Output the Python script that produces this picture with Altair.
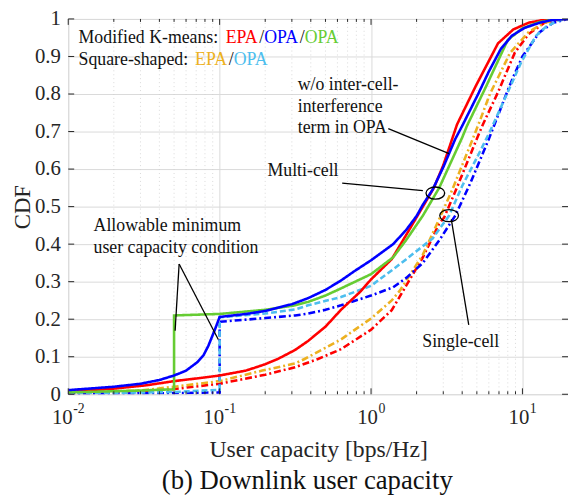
import altair as alt
import pandas as pd

# ---------------- data ----------------
red_multi_x = [0.01, 0.02, 0.033, 0.05, 0.07, 0.1, 0.149, 0.2, 0.245, 0.315, 0.384, 0.5, 0.633, 0.853, 1.0, 1.37, 1.71, 2.2, 2.6, 3.0, 3.7, 4.9, 6.9, 8.7, 11, 14, 18, 20]
red_multi_y = [0.006, 0.015, 0.024, 0.035, 0.042, 0.05, 0.063, 0.08, 0.095, 0.118, 0.142, 0.18, 0.225, 0.274, 0.306, 0.36, 0.425, 0.5, 0.55, 0.61, 0.719, 0.82, 0.935, 0.972, 0.99, 0.998, 1.0, 1.0]

blue_multi_x = [0.01, 0.02, 0.03, 0.04, 0.05, 0.06, 0.071, 0.078, 0.084, 0.093, 0.1, 0.15, 0.2, 0.3, 0.384, 0.5, 0.633, 0.77, 1.0, 1.4, 1.7, 2.0, 2.2, 2.55, 3.0, 3.6, 4.0, 5.1, 6.0, 7.2, 8.5, 10.3, 13, 16, 20]
blue_multi_y = [0.011, 0.02, 0.028, 0.038, 0.05, 0.063, 0.085, 0.103, 0.128, 0.172, 0.206, 0.214, 0.222, 0.24, 0.256, 0.278, 0.303, 0.327, 0.357, 0.4, 0.437, 0.475, 0.505, 0.545, 0.605, 0.68, 0.715, 0.8, 0.86, 0.92, 0.955, 0.976, 0.99, 0.998, 1.0]

green_multi_x = [0.01, 0.02, 0.03, 0.04, 0.05, 0.05, 0.1, 0.2, 0.315, 0.384, 0.5, 0.633, 1.0, 1.4, 1.7, 2.2, 2.82, 4.0, 4.3, 5.66, 8.0, 10, 13, 17, 20]
green_multi_y = [0.005, 0.008, 0.01, 0.012, 0.013, 0.21, 0.214, 0.225, 0.237, 0.246, 0.263, 0.282, 0.32, 0.365, 0.41, 0.476, 0.55, 0.684, 0.715, 0.814, 0.944, 0.975, 0.992, 1.0, 1.0]

red_single_x = [0.01, 0.03, 0.05, 0.1, 0.2, 0.315, 0.446, 0.633, 1.0, 1.37, 1.71, 2.2, 2.82, 3.04, 3.6, 4.93, 5.5, 6.9, 8.9, 11, 14, 18, 20]
red_single_y = [0.002, 0.008, 0.014, 0.028, 0.052, 0.072, 0.094, 0.12, 0.172, 0.224, 0.29, 0.365, 0.455, 0.471, 0.54, 0.675, 0.72, 0.805, 0.91, 0.96, 0.99, 1.0, 1.0]

orange_single_x = [0.01, 0.03, 0.05, 0.1, 0.191, 0.315, 0.364, 0.633, 1.0, 1.37, 1.55, 2.2, 2.82, 3.44, 4.64, 5.25, 6.1, 8.3, 11, 14, 18, 20]
orange_single_y = [0.003, 0.01, 0.02, 0.035, 0.063, 0.082, 0.094, 0.146, 0.202, 0.25, 0.276, 0.372, 0.467, 0.545, 0.675, 0.73, 0.8, 0.91, 0.965, 0.99, 1.0, 1.0]

bluedash_single_x = [0.01, 0.05, 0.1, 0.1, 0.2, 0.315, 0.384, 0.5, 0.633, 1.0, 1.4, 1.71, 2.2, 2.82, 3.6, 4.5, 6.0, 8.0, 8.8, 10, 13, 16, 20]
bluedash_single_y = [0.001, 0.003, 0.005, 0.193, 0.203, 0.21, 0.215, 0.225, 0.237, 0.263, 0.285, 0.31, 0.35, 0.41, 0.476, 0.56, 0.68, 0.81, 0.85, 0.9, 0.965, 0.99, 1.0]

lightblue_single_x = [0.01, 0.05, 0.1, 0.1, 0.2, 0.315, 0.384, 0.633, 1.0, 1.4, 1.71, 2.55, 3.28, 4.0, 5.0, 6.1, 8.0, 9.8, 12.3, 14.3, 17, 20]
lightblue_single_y = [0.002, 0.006, 0.012, 0.205, 0.215, 0.226, 0.237, 0.259, 0.289, 0.333, 0.36, 0.415, 0.476, 0.555, 0.63, 0.7, 0.805, 0.884, 0.955, 0.979, 0.995, 1.0]

# (name, x, y, color, dash)  -- drawn in this order
series = [
    ("K-means EPA single", red_single_x, red_single_y, "#ff0000", [7, 3, 2, 3]),
    ("Square EPA single", orange_single_x, orange_single_y, "#EDB120", [7, 3, 2, 3]),
    ("K-means OPA single", bluedash_single_x, bluedash_single_y, "#0000ff", [7, 3, 2, 3]),
    ("Square OPA single", lightblue_single_x, lightblue_single_y, "#4DBEEE", [6, 3]),
    ("K-means EPA multi", red_multi_x, red_multi_y, "#ff0000", [1, 0]),
    ("K-means OPA w/o", green_multi_x, green_multi_y, "#66CC33", [1, 0]),
    ("K-means OPA multi", blue_multi_x, blue_multi_y, "#0000ff", [1, 0]),
]

decades = [0.01, 0.1, 1, 10]
exponents = ["-2", "-1", "0", "1"]
minor_vals = [m * d for d in [0.01, 0.1, 1] for m in range(2, 10)]
y_vals = [round(i / 10, 1) for i in range(11)]

W, H = 506, 380
SERIF = "Liberation Serif"
x_scale = alt.Scale(type="log", domain=[0.01, 20], nice=False)
y_scale = alt.Scale(domain=[0, 1], nice=False)

x_axis = alt.Axis(values=decades, labels=False, ticks=False, domain=False, grid=True,
                  gridColor="#d9d9d9", gridWidth=1,
                  title="User capacity [bps/Hz]", titleFont=SERIF, titleFontSize=24,
                  titleFontWeight="normal", titleColor="#262626",
                  titleX=W / 2, titleY=56, titleBaseline="middle", titleAlign="center")
y_axis = alt.Axis(values=y_vals, format=".1~f", ticks=False, domain=False, grid=True,
                  gridColor="#d9d9d9", gridWidth=1, labelOverlap=False,
                  labelFont=SERIF, labelFontSize=21, labelColor="#262626", labelPadding=8,
                  title="CDF", titleFont=SERIF, titleFontSize=23, titleFontWeight="normal",
                  titleColor="#262626", titleX=-46, titleY=H / 2,
                  titleBaseline="middle", titleAlign="center", titleAngle=-90)


def X(field="x"):
    return alt.X(f"{field}:Q", scale=x_scale, axis=x_axis)


def Y(field="y"):
    return alt.Y(f"{field}:Q", scale=y_scale, axis=y_axis)


# ---------------- axes, grid & ticks ----------------
base_axes = alt.Chart(pd.DataFrame({"x": [0.01], "y": [0.0]})).mark_point(opacity=0).encode(x=X(), y=Y())

minor_df = pd.DataFrame({"x": minor_vals})
minor_grid = alt.Chart(minor_df).mark_rule(color="#d0d0d0", strokeWidth=0.8, strokeDash=[1, 3]).encode(
    x=X(), y=alt.value(0), y2=alt.value(H))

dec_df = pd.DataFrame({"x": decades})
yt_df = pd.DataFrame({"y": y_vals})
tick_layers = [
    alt.Chart(dec_df).mark_rule(color="#262626").encode(x=X(), y=alt.value(H), y2=alt.value(H - 6)),
    alt.Chart(dec_df).mark_rule(color="#262626").encode(x=X(), y=alt.value(0), y2=alt.value(6)),
    alt.Chart(minor_df).mark_rule(color="#262626").encode(x=X(), y=alt.value(H), y2=alt.value(H - 3)),
    alt.Chart(minor_df).mark_rule(color="#262626").encode(x=X(), y=alt.value(0), y2=alt.value(3)),
    alt.Chart(yt_df).mark_rule(color="#262626").encode(y=Y(), x=alt.value(0), x2=alt.value(6)),
    alt.Chart(yt_df).mark_rule(color="#262626").encode(y=Y(), x=alt.value(W), x2=alt.value(W - 6)),
]

# custom x tick labels 10^k
label_layers = []
for d, e in zip(decades, exponents):
    we = 12 if e.startswith("-") else 7
    off = (21 - we) / 2
    one = pd.DataFrame({"x": [d]})
    label_layers.append(alt.Chart(one).mark_text(font=SERIF, fontSize=21, align="right", baseline="middle",
                                                 dx=off, color="#262626").encode(
        x=X(), y=alt.value(H + 24), text=alt.value("10")))
    label_layers.append(alt.Chart(one).mark_text(font=SERIF, fontSize=14, align="left", baseline="middle",
                                                 dx=off + 0.5, dy=-9, color="#262626").encode(
        x=X(), y=alt.value(H + 24), text=alt.value(e)))

# ---------------- curves ----------------
curve_layers = []
for name, xs, ys, col, dash in series:
    df = pd.DataFrame({"x": xs, "y": ys, "i": list(range(len(xs)))})
    curve_layers.append(alt.Chart(df).mark_line(color=col, strokeWidth=2.6, strokeDash=dash, clip=True).encode(
        x=X(), y=Y(), order="i:Q"))

# ---------------- annotations ----------------
ann_lines = pd.DataFrame({
    "x": [1.30, 0.645, 3.39, 0.054, 0.054],
    "y": [0.708, 0.5625, 0.466, 0.347, 0.347],
    "x2": [3.28, 2.2, 4.42, 0.0508, 0.098],
    "y2": [0.641, 0.5425, 0.185, 0.169, 0.146],
})
ann_rules = alt.Chart(ann_lines).mark_rule(color="black", strokeWidth=1.3).encode(
    x=X(), y=Y(), x2="x2:Q", y2="y2:Q")

ell_df = pd.DataFrame({"x": [2.66, 3.28], "y": [0.536, 0.476]})
ellipses = alt.Chart(ell_df).mark_point(
    shape="M-1,0 A1,0.65 0 1,1 1,0 A1,0.65 0 1,1 -1,0 Z", size=360, filled=False,
    color="black", strokeWidth=1.3, opacity=1).encode(x=X(), y=Y())

ann_text_df = pd.DataFrame({
    "x": [0.328, 0.328, 0.328, 0.207, 2.18, 0.0147, 0.0147],
    "y": [0.823, 0.766, 0.708, 0.594, 0.14, 0.448, 0.389],
    "t": ["w/o inter-cell-", "interference", "term in OPA", "Multi-cell", "Single-cell",
          "Allowable minimum", "user capacity condition"],
})
ann_texts = alt.Chart(ann_text_df).mark_text(font=SERIF, fontSize=18, align="left", baseline="middle",
                                             color="#111111").encode(x=X(), y=Y(), text="t:N")

# coloured legend lines
legend_segments = [
    (0.948, "Modified K-means: ", "#111111", 0),
    (0.948, "EPA", "#ff0000", 149),
    (0.948, "/", "#111111", 183),
    (0.948, "OPA", "#0000ff", 188),
    (0.948, "/", "#111111", 224),
    (0.948, "OPA", "#66CC33", 229),
    (0.891, "Square-shaped: ", "#111111", 0),
    (0.891, "EPA", "#EDB120", 118),
    (0.891, "/", "#111111", 152),
    (0.891, "OPA", "#4DBEEE", 157),
]
legend_layers = []
for yv, txt, col, dx in legend_segments:
    legend_layers.append(alt.Chart(pd.DataFrame({"x": [0.0117], "y": [yv]})).mark_text(
        font=SERIF, fontSize=18, align="left", baseline="middle", color=col, dx=dx).encode(
        x=X(), y=Y(), text=alt.value(txt)))

bottom_title = alt.Chart(pd.DataFrame({"x": [0]})).mark_text(
    font=SERIF, fontSize=27, align="center", baseline="middle", color="#111111").encode(
    x=alt.value(242), y=alt.value(468), text=alt.value("(b) Downlink user capacity"))

chart = alt.layer(
    base_axes, minor_grid, *curve_layers, *tick_layers, *label_layers,
    ann_rules, ellipses, ann_texts, *legend_layers, bottom_title
).properties(
    width=W, height=H,
    autosize=alt.AutoSizeParams(type="none"),
    padding={"left": 61, "top": 8, "right": 0, "bottom": 106},
).configure_view(stroke="#262626", strokeWidth=1).configure(background="white")

chart.save("out.html", embed_options={"renderer": "svg", "actions": False})
